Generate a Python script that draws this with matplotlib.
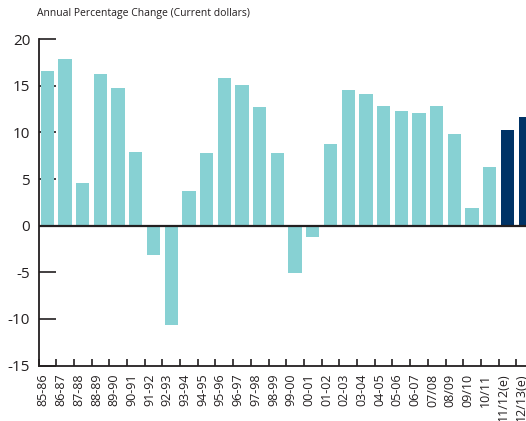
import matplotlib
matplotlib.use("Agg")
import matplotlib.pyplot as plt
from matplotlib.transforms import ScaledTranslation
import numpy as np

plt.rcParams['font.family'] = ['Open Sans', 'DejaVu Sans']
plt.rcParams['axes.unicode_minus'] = False

# Fiscal years and annual percentage change
years = ['85-86', '86-87', '87-88', '88-89', '89-90', '90-91', '91-92', '92-93',
         '93-94', '94-95', '95-96', '96-97', '97-98', '98-99', '99-00', '00-01',
         '01-02', '02-03', '03-04', '04-05', '05-06', '06-07', '07/08', '08/09',
         '09/10', '10/11', '11/12(e)', '12/13(e)']
changes = [16.6, 17.9, 4.6, 16.3, 14.8, 7.9, -3.1, -10.6,
           3.7, 7.8, 15.8, 15.1, 12.7, 7.8, -5.1, -1.2,
           8.8, 14.6, 14.1, 12.8, 12.3, 12.1, 12.8, 9.8,
           1.9, 6.3, 10.3, 11.7]
estimated = [False] * 26 + [True, True]

light = '#87d1d3'
dark = '#003366'
ink = '#231f20'

fig = plt.figure(figsize=(5.26, 4.21), dpi=100)
ax = fig.add_axes([0.0732, 0.1318, 0.942, 0.7749])

x = np.arange(len(years))
colors = [dark if e else light for e in estimated]
ax.bar(x, changes, width=0.75, color=colors, zorder=2)

# zero line
ax.axhline(0, color=ink, lw=1.6, zorder=3)

ax.set_xlim(-0.5, len(years) - 0.5)
ax.set_ylim(-15, 20)
ax.set_yticks(range(-15, 21, 5))

ax.set_xticks(x)
ax.set_xticklabels(years, rotation=90, fontsize=9, color=ink)
ax.set_xticks(np.arange(-0.5, len(years), 1), minor=True)
ax.tick_params(axis='x', which='major', length=0, pad=6)
ax.tick_params(axis='x', which='minor', direction='in', length=5, width=1.2, color=ink)
ax.tick_params(axis='y', direction='in', length=12, width=1.2, color=ink,
               labelsize=11, labelcolor=ink, pad=6)

shift = ScaledTranslation(-4 / 100, 0, fig.dpi_scale_trans)
for lbl in ax.get_xticklabels():
    lbl.set_transform(lbl.get_transform() + shift)

for side in ['top', 'right']:
    ax.spines[side].set_visible(False)
for side in ['left', 'bottom']:
    ax.spines[side].set_color(ink)
    ax.spines[side].set_linewidth(1.3)

fig.text(0.07, 0.967, 'Annual Percentage Change (Current dollars)',
         fontsize=7.5, color=ink, ha='left', va='center')

fig.savefig('out.png', dpi=100)
